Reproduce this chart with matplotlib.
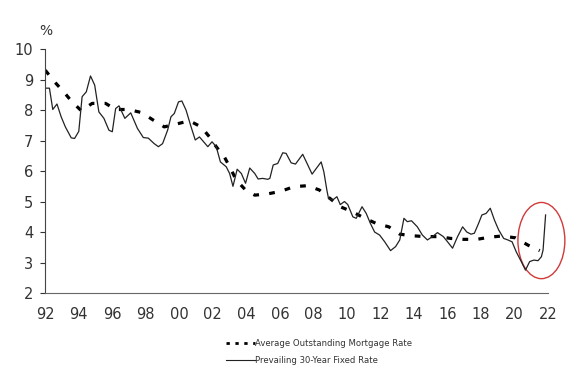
import matplotlib
matplotlib.use("Agg")
import matplotlib.pyplot as plt
from matplotlib.patches import Ellipse
from matplotlib.lines import Line2D

# prevailing 30-year fixed rate (solid)
fixed_years = [1992.0, 1992.25, 1992.45, 1992.7, 1992.95, 1993.2, 1993.55, 1993.75, 1994.0, 1994.2,
               1994.45, 1994.7, 1994.95, 1995.2, 1995.5, 1995.8, 1996.0, 1996.2, 1996.4, 1996.75,
               1997.1, 1997.5, 1997.85, 1998.15, 1998.5, 1998.75, 1999.0, 1999.3, 1999.5, 1999.7,
               1999.95, 2000.15, 2000.4, 2000.7, 2000.95, 2001.2, 2001.45, 2001.7, 2001.95, 2002.2,
               2002.45, 2002.8, 2003.0, 2003.2, 2003.45, 2003.7, 2003.95, 2004.2, 2004.5, 2004.7,
               2004.97, 2005.27, 2005.4, 2005.6, 2005.87, 2006.17, 2006.37, 2006.67, 2006.93, 2007.36,
               2007.62, 2007.92, 2008.46, 2008.62, 2008.8, 2008.9, 2009.15, 2009.4, 2009.6, 2009.85,
               2010.05, 2010.35, 2010.55, 2010.9, 2011.15, 2011.4, 2011.65, 2011.95, 2012.25, 2012.6,
               2012.9, 2013.15, 2013.4, 2013.6, 2013.85, 2014.2, 2014.5, 2014.8, 2015.1, 2015.4,
               2015.75, 2016.0, 2016.3, 2016.6, 2016.9, 2017.15, 2017.4, 2017.6, 2017.85, 2018.05,
               2018.3, 2018.55, 2018.8, 2019.05, 2019.35, 2019.6, 2019.85, 2020.1, 2020.4, 2020.65,
               2020.9, 2021.15, 2021.4, 2021.6, 2021.7, 2021.85]
fixed_rate = [8.72, 8.72, 8.02, 8.2, 7.78, 7.45, 7.09, 7.07, 7.3, 8.44,
              8.6, 9.12, 8.82, 7.94, 7.73, 7.34, 7.29, 8.05, 8.14, 7.73,
              7.91, 7.4, 7.1, 7.08, 6.9, 6.8, 6.9, 7.34, 7.78, 7.89,
              8.27, 8.3, 8.0, 7.45, 7.02, 7.12, 6.96, 6.8, 6.96, 6.8,
              6.3, 6.14, 5.92, 5.5, 6.06, 5.92, 5.6, 6.1, 5.92, 5.74,
              5.76, 5.73, 5.76, 6.2, 6.25, 6.6, 6.58, 6.27, 6.23, 6.55,
              6.25, 5.9, 6.3, 5.98, 5.38, 5.1, 5.05, 5.16, 4.9, 5.0,
              4.9, 4.5, 4.45, 4.83, 4.61, 4.28, 4.0, 3.9, 3.68, 3.39,
              3.52, 3.74, 4.45, 4.34, 4.37, 4.17, 3.9, 3.74, 3.85, 3.98,
              3.85, 3.68, 3.47, 3.85, 4.17, 4.0, 3.93, 3.96, 4.28, 4.56,
              4.61, 4.78, 4.39, 4.07, 3.79, 3.74, 3.68, 3.35, 3.03, 2.75,
              3.03, 3.08, 3.06, 3.19, 3.41, 4.56]

# average outstanding mortgage rate (dotted)
avg_years = [1992.0, 1992.55, 1993.1, 1993.6, 1994.15, 1994.8, 1995.6, 1996.2, 1996.95, 1997.75,
             1998.45, 1999.1, 1999.8, 2000.6, 2001.3, 2001.8, 2002.2, 2002.7, 2003.05, 2003.4,
             2003.95, 2004.5, 2005.27, 2006.07, 2006.85, 2007.65, 2008.35, 2008.9, 2009.6, 2010.3,
             2011.0, 2011.75, 2012.5, 2013.15, 2013.85, 2014.65, 2015.4, 2016.2, 2016.95, 2017.75,
             2018.5, 2019.25, 2020.05, 2020.8, 2021.5]
avg_rate = [9.31, 8.93, 8.6, 8.27, 7.98, 8.22, 8.22, 8.02, 8.02, 7.92,
            7.67, 7.45, 7.54, 7.65, 7.45, 7.12, 6.8, 6.45, 6.09, 5.7,
            5.38, 5.21, 5.25, 5.34, 5.49, 5.52, 5.38, 5.14, 4.83, 4.67,
            4.47, 4.28, 4.17, 3.93, 3.88, 3.85, 3.85, 3.79, 3.76, 3.76,
            3.83, 3.87, 3.81, 3.57, 3.39]

x_ticks = list(range(1992, 2023, 2))
x_labels = [f"{y % 100:02d}" for y in x_ticks]
y_ticks = list(range(2, 11))

fig = plt.figure(figsize=(5.8, 3.81), dpi=100)
ax = fig.add_axes([0.078, 0.231, 0.867, 0.640])

ax.plot(avg_years, avg_rate, color="black", lw=2.3, linestyle=(0, (1.8, 3.2)), solid_capstyle="butt")
ax.plot(fixed_years, fixed_rate, color="#222222", lw=0.9)

ax.add_patch(Ellipse((2021.6, 3.72), 2.8, 2.5, fill=False, edgecolor="#d03a3a", lw=1.0, clip_on=False))

ax.set_xlim(1992, 2022)
ax.set_ylim(2, 10)
ax.set_xticks(x_ticks)
ax.set_xticklabels(x_labels)
ax.set_yticks(y_ticks)
for s in ("top", "right"):
    ax.spines[s].set_visible(False)
ax.spines["left"].set_color("#444444")
ax.spines["bottom"].set_color("#666666")
ax.spines["left"].set_linewidth(0.8)
ax.spines["bottom"].set_linewidth(0.8)
ax.tick_params(axis="x", length=0, pad=10, labelsize=10.5, colors="#333333")
ax.tick_params(axis="y", length=3.5, width=0.8, pad=5, labelsize=10.5, colors="#333333", direction="out")
ax.text(-0.012, 1.045, "%", transform=ax.transAxes, fontsize=10, color="#333333", ha="left", va="bottom")

handles = [Line2D([], [], color="black", lw=2.0, linestyle=(0, (1.2, 2.0)), dash_capstyle="butt"),
           Line2D([], [], color="#222222", lw=0.8)]
labels = ["Average Outstanding Mortgage Rate", "Prevailing 30-Year Fixed Rate"]
fig.legend(handles, labels, loc="upper left", bbox_to_anchor=(0.382, 0.122), frameon=False,
           fontsize=6.1, handlelength=3.4, handletextpad=0.05, labelspacing=1.0, borderpad=0,
           labelcolor="#333333")

fig.savefig("out.png", dpi=100)
